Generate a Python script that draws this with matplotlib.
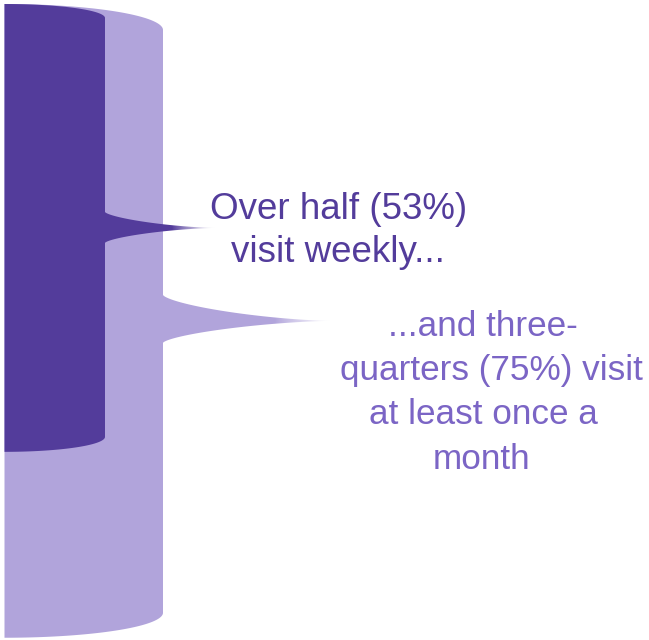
import numpy as np
import matplotlib
matplotlib.use("Agg")
import matplotlib.pyplot as plt
from matplotlib.path import Path
from matplotlib.patches import PathPatch

# ---- data ----
categories = ["Weekly", "At least once a month"]
values = [53, 75]  # percent
label_lines_weekly = ["Over half (53%)", "visit weekly..."]
label_lines_monthly = ["...and three-", "quarters (75%) visit", "at least once a", "month"]

# ---- style ----
DARK = "#533C9B"
LIGHT = "#B1A4DB"
TEXT1 = "#533C9B"
TEXT2 = "#7B65C5"

W, H = 649, 640
TOP_PX = 4.0
PX_PER_PCT = 8.45

fig = plt.figure(figsize=(W / 100, H / 100), dpi=100)
ax = fig.add_axes([0, 0, 1, 1])
ax.set_xlim(0, W)
ax.set_ylim((H - TOP_PX) / PX_PER_PCT, -TOP_PX / PX_PER_PCT)
ax.axis("off")

def px(v):
    return v / PX_PER_PCT

def brace_path(x0, x1, xtip, ytop, ybot, cap_top, cap_bot, nh_top, nh_bot, q=1.5, n=60):
    ymid = (ytop + ybot) / 2
    a = x1 - x0
    pts = []
    th = np.linspace(np.pi / 2, 0, n)
    pts += list(zip(x0 + a * np.cos(th), ytop + cap_top - cap_top * np.sin(th)))
    L = xtip - x1
    t = np.linspace(0, 1, n)
    c = np.cos(t * np.pi / 2) ** (2 / q)
    s = np.sin(t * np.pi / 2) ** (2 / q)
    yt = ymid - nh_top
    pts += list(zip(xtip - L * c, yt + nh_top * s))
    yb = ymid + nh_bot
    pts += list(zip((xtip - L * c)[::-1], (yb - nh_bot * s)[::-1]))
    th2 = np.linspace(0, np.pi / 2, n)
    pts += list(zip(x0 + a * np.cos(th2), ybot - cap_bot + cap_bot * np.sin(th2)))
    pts.append(pts[0])
    codes = [Path.MOVETO] + [Path.LINETO] * (len(pts) - 2) + [Path.CLOSEPOLY]
    return Path(pts, codes), ymid

def fade(xs, xe, ymid, half_h):
    grad = np.zeros((1, 200, 4))
    grad[..., :3] = 1.0
    grad[0, :, 3] = np.linspace(0, 1, 200) ** 0.8
    ax.imshow(grad, extent=(xs, xe, ymid + half_h, ymid - half_h), aspect="auto",
              interpolation="bilinear", zorder=5)

# light brace (monthly)
p_light, mid_l = brace_path(4.5, 163, 330, 0, values[1], px(26), px(25), px(26), px(22))
ax.add_patch(PathPatch(p_light, facecolor=LIGHT, edgecolor="none", zorder=1))
fade(275, 335, mid_l, px(9))

# dark brace (weekly)
p_dark, mid_d = brace_path(4.5, 105, 215, 0, values[0], px(14), px(15), px(16), px(15))
ax.add_patch(PathPatch(p_dark, facecolor=DARK, edgecolor="none", zorder=2))
fade(172, 218, mid_d, px(7))

ax.set_xlim(0, W)
ax.set_ylim((H - TOP_PX) / PX_PER_PCT, -TOP_PX / PX_PER_PCT)

# ---- text ----
def put(x, y, s, size, color):
    fig.text(x / W, 1 - y / H, s, ha="center", va="baseline", fontsize=size,
             color=color, family=["Liberation Sans", "DejaVu Sans"], zorder=10)

for (x, y), s in zip([(338.5, 219), (338, 262)], label_lines_weekly):
    put(x, y, s, 26.5, TEXT1)

for (x, y), s in zip([(482.5, 336), (491, 380), (483, 424), (481.5, 469)], label_lines_monthly):
    put(x, y, s, 25.3, TEXT2)

fig.savefig("out.png", dpi=100)
